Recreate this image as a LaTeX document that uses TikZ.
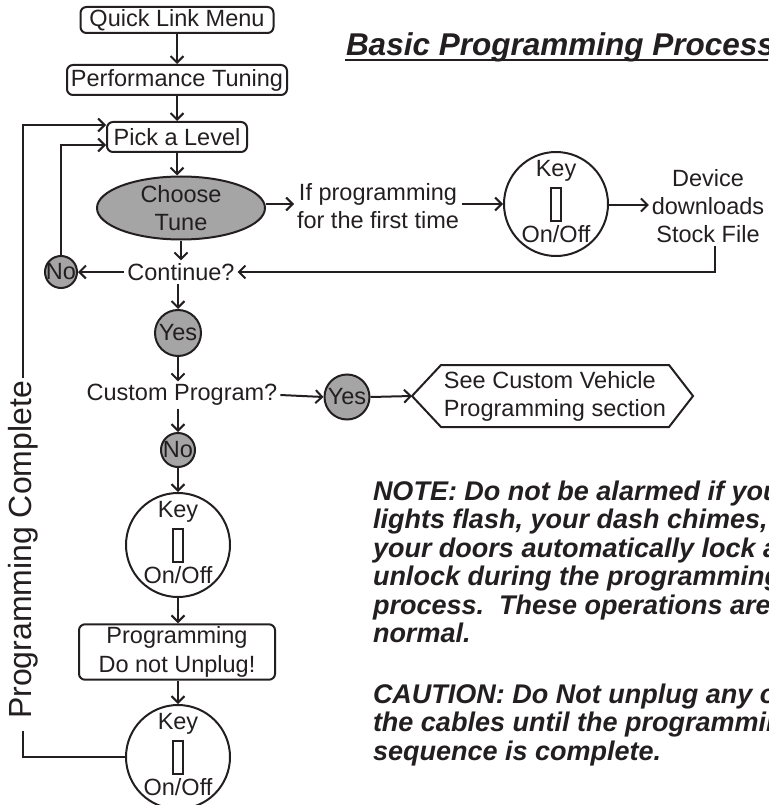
\documentclass[tikz,border=0pt]{standalone}
\usepackage{fontspec}
\setmainfont{Liberation Sans}
\usetikzlibrary{arrows.meta,shapes.geometric,calc}
\definecolor{ink}{RGB}{35,31,32}
\definecolor{fillg}{RGB}{165,165,165}
\begin{document}
\begin{tikzpicture}[x=1pt,y=-1pt, line width=2pt, color=ink,
  every node/.style={font=\fontsize{23.5}{28}\selectfont, inner sep=2pt},
  box/.style={draw, rounded corners=6pt, inner sep=2pt},
  arr/.style={-{Straight Barb[length=6.5pt,width=13pt]}},
  gcirc/.style={circle, draw, fill=fillg, inner sep=0pt},
  keyc/.style={circle, draw, minimum size=104pt, inner sep=0pt},
  slotbox/.style={draw, line width=1.6pt, minimum width=10pt, minimum height=33pt, inner sep=0pt},
  notef/.style={font=\fontsize{27}{28.5}\selectfont\bfseries\itshape, inner sep=0pt, anchor=base west}
]
\useasboundingbox (0,0) rectangle (768,805);
\clip (0,0) rectangle (768,805);

% title
\node[anchor=base west, inner sep=0pt, font=\fontsize{31.5}{36}\selectfont\bfseries\itshape] (title) at (345,56) {Basic Programming Process};
\draw[line width=2.5pt] ([yshift=-4pt]title.base west) -- ([yshift=-4pt]title.base east);

% main column
\node[box, minimum width=193pt, minimum height=26pt] (qlm) at (177,20) {Quick Link Menu};
\node[box, minimum width=220pt, minimum height=30pt] (perf) at (177,80) {Performance Tuning};
\node[box, minimum width=140pt, minimum height=30pt] (pick) at (177,137) {Pick a Level};
\node[ellipse, draw, fill=fillg, minimum width=168pt, minimum height=63pt] (tune) at (181,208) {};
\node[align=center] (tunet) at (181,208) {Choose\\Tune};
\node (cont) at (181,272) {Continue?};
\node[gcirc, minimum size=32pt] (no1) at (61,272) {\makebox[0pt]{No}};
\node[gcirc, minimum size=46pt] (yes1) at (178,333) {\makebox[0pt]{Yes}};
\node (cust) at (182,395) {Custom Program?};
\node[gcirc, minimum size=45pt] (yes2) at (347,397) {\makebox[0pt]{Yes}};
\node[minimum width=226pt, minimum height=60pt, align=left, inner sep=0pt] (see) at (555,396) {See Custom Vehicle\\Programming section};
\coordinate (seetip) at ([xshift=-29pt]see.west);
\coordinate (seeend) at ([xshift=24pt]see.east);
\draw (see.north west) -- (see.north east) -- (seeend) -- (see.south east) -- (see.south west) -- (seetip) -- cycle;
\node[gcirc, minimum size=34pt] (no2) at (178,450) {\makebox[0pt]{No}};

% key 1
\node[keyc] (key1) at (178,545) {};
\node (k1a) at (178,512) {Key};
\node[slotbox] (k1s) at (178,545.5) {};
\node (k1b) at (178,575) {On/Off};

\node[box, minimum width=196pt, minimum height=55pt, align=center, font=\fontsize{23.5}{29.5}\selectfont] (prog) at (177,652) {Programming\\Do not Unplug!};

% key 2
\node[keyc] (key2) at (178,757) {};
\node (k2a) at (178,724) {Key};
\node[slotbox] (k2s) at (178,757.5) {};
\node (k2b) at (178,787) {On/Off};

% right branch
\node[align=center] (iff) at (378,206) {If programming\\for the first time};
\node[keyc] (key3) at (556,204) {};
\node (k3a) at (556,171) {Key};
\node[slotbox] (k3s) at (556,204.5) {};
\node (k3b) at (556,234) {On/Off};
\node[align=center] (dev) at (708,206) {Device\\downloads\\Stock File};

% programming complete
\node[rotate=90, inner sep=0pt, font=\fontsize{32}{38}\selectfont] (pc) at (23,550) {Programming Complete};

% connectors
\draw[arr] (qlm.south) -- (qlm.south |- perf.north);
\draw[arr] (perf.south) -- (perf.south |- pick.north);
\draw[arr] (pick.south) -- (pick.south |- tune.north);
\draw[arr] (tune.south) -- (tune.south |- cont.north);
\draw[arr] ([yshift=4pt]tune.east) -- ([yshift=4pt]tune.east -| iff.west);
\draw[arr] (iff.east |- key3.west) -- (key3.west);
\draw[arr] ([yshift=-1pt]key3.east) -- ([yshift=-1pt]key3.east -| dev.west);
\draw[arr] ([xshift=7pt]dev.south) |- (cont.east);
\draw[arr] (cont.west) -- (no1.east);
\draw[arr] (no1.north) |- ([yshift=-8pt]pick.west);
\draw[arr] (yes1.north |- cont.south) -- (yes1.north);
\draw[arr] (yes1.south) -- (yes1.south |- cust.north);
\draw[arr] (cust.east) -- (yes2.west);
\draw[arr] (yes2.east) -- (seetip);
\draw[arr] (no2.north |- cust.south) -- (no2.north);
\draw[arr] (no2.south) -- (key1.north);
\draw[arr] (key1.south) -- (key1.south |- prog.north);
\draw[arr] (key2.north |- prog.south) -- (key2.north);
\draw (key2.west) -| ([yshift=-11pt]pc.west);
\draw[arr] ([yshift=2pt]pc.east) |- ([yshift=12pt]pick.west);

% notes
\foreach \t [count=\i] in {NOTE: Do not be alarmed if your, {lights flash, your dash chimes, or}, your doors automatically lock and, unlock during the programming, process.\ \ These operations are, normal.}
  \node[notef] (note\i) at (372,{471.5+28.5*\i}) {\t};
\foreach \t [count=\i] in {CAUTION: Do Not unplug any of, the cables until the programming, sequence is complete.}
  \node[notef] (caut\i) at (372,{674.5+28.5*\i}) {\t};
\end{tikzpicture}
\end{document}
